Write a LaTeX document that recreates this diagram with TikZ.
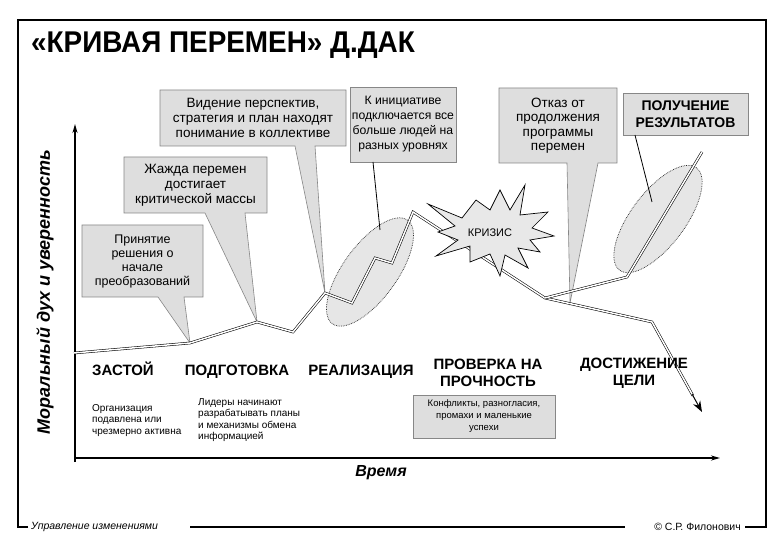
\documentclass[tikz,border=0pt]{standalone}
\usepackage{fontspec}
\setmainfont{Liberation Sans}
\usetikzlibrary{arrows.meta,shapes.geometric,calc}
\definecolor{boxfill}{RGB}{222,222,222}
\definecolor{boxline}{RGB}{135,135,135}
\definecolor{ellfill}{RGB}{230,230,230}
\definecolor{starfill}{RGB}{232,232,232}
\tikzset{
 curve/.style={draw=black,line width=0.55pt,double=white,double distance=1.5pt,line join=miter},
 callout/.style={fill=boxfill,draw=boxline,line width=0.6pt},
 ctext/.style={align=center,inner sep=0},
 phase/.style={align=center,font=\bfseries\fontsize{15}{17}\selectfont,inner sep=0},
 note/.style={align=left,font=\fontsize{10}{11.6}\selectfont,inner sep=0,anchor=north west},
 bubble/.style={ellipse,fill=ellfill,draw=black!85,densely dotted,line width=0.7pt,inner sep=0},
 frameline/.style={line width=2.2pt},
 axis/.style={line width=1.6pt,-{Stealth[length=9pt,width=5pt]}},
 pointer/.style={line width=0.8pt,draw=black},
}
\begin{document}
\begin{tikzpicture}[x=1pt,y=-1pt]
\useasboundingbox[fill=white] (0,0) rectangle (780,540);
% frame
\draw[frameline] (28,527) -- (18,527) -- (18,20) -- (766,20) -- (766,527) -- (745,527);
\draw[frameline] (190,527) -- (625,527);
\node[font=\itshape\fontsize{10.5}{12}\selectfont,anchor=west,inner sep=0] (ftl) at (31,527) {Управление изменениями};
\node[font=\fontsize{10.5}{12}\selectfont,anchor=east,inner sep=0] (ftr) at (741,527) {© С.Р. Филонович};
% title
\node[anchor=west,inner sep=0,font=\bfseries\fontsize{30}{34}\selectfont\addfontfeature{FakeStretch=0.93}] (title) at (31,45) {«КРИВАЯ ПЕРЕМЕН» Д.ДАК};
% axes
\draw[axis] (75,462) -- (75,124);
\draw[axis] (74,458) -- (720,458);
\node[rotate=90,font=\bfseries\itshape\fontsize{18}{20}\selectfont,inner sep=0] (ylab) at (45,292) {Моральный дух и уверенность};
\node[font=\bfseries\itshape\fontsize{16}{18}\selectfont,inner sep=0] (xlab) at (381,473) {Время};
% curve points
\coordinate (p0) at (74,353);
\coordinate (p1) at (190,343);
\coordinate (p2) at (257,322);
\coordinate (p3) at (293,332);
\coordinate (p4) at (325,293);
\coordinate (p5) at (352,303);
\coordinate (p6) at (375,258);
\coordinate (p7) at (392,263);
\coordinate (p8) at (413,212);
\coordinate (p9) at (545,298);
\coordinate (p10) at (652,322);
\coordinate (p11) at (702,412);
\coordinate (q1) at (627,277);
\coordinate (q2) at (702,152);
\coordinate (tipE) at (570,303);
% bubbles
\node[bubble,minimum width=128,minimum height=54,rotate=54] (e1) at (370,272) {};
\node[bubble,minimum width=128,minimum height=54,rotate=53] (e2) at (658,219) {};
% callouts
\draw[callout] (82,225) -- (203,225) -- (203,297) -- (184,297) -- (p1) -- (158,297) -- (82,297) -- cycle;
\node[ctext,font=\fontsize{12.5}{14}\selectfont] (ta) at (142.5,261) {Принятие\\решения о\\начале\\преобразований};
\draw[callout] (124,157) -- (267,157) -- (267,213) -- (245,213) -- (p2) -- (205,213) -- (124,213) -- cycle;
\node[ctext,font=\fontsize{13.5}{15}\selectfont] (tb) at (195.5,185) {Жажда перемен\\достигает\\критической массы};
\draw[callout] (160,90) -- (346,90) -- (346,146) -- (315,146) -- (p4) -- (295,146) -- (160,146) -- cycle;
\node[ctext,font=\fontsize{13.5}{15}\selectfont] (tc) at (253,118) {Видение перспектив,\\стратегия и план находят\\понимание в коллективе};
\draw[callout] (350,87) rectangle (456,162);
\node[ctext,font=\fontsize{12.2}{15}\selectfont] (td) at (403,124.5) {К инициативе\\подключается все\\больше людей на\\разных уровнях};
\coordinate (dE) at (380,230);
\draw[pointer] (373,162) -- (dE);
\draw[callout] (499,88) -- (617,88) -- (617,163) -- (598,163) -- (tipE) -- (567,163) -- (499,163) -- cycle;
\node[ctext,font=\fontsize{13.5}{14.5}\selectfont] (te) at (558,125.5) {Отказ от\\продолжения\\программы\\перемен};
\draw[callout] (623,93) rectangle (748,135);
\node[ctext,font=\bfseries\fontsize{14}{17}\selectfont] (tf) at (685.5,114) {ПОЛУЧЕНИЕ\\РЕЗУЛЬТАТОВ};
\coordinate (fE) at (652,202);
\draw[pointer] (635,135) -- (fE);
% curve
\draw[curve] (p0) -- (p1) -- (p2) -- (p3) -- (p4) -- (p5) -- (p6) -- (p7) -- (p8) -- (p9) -- (p10) -- ($(p10)!0.82!(p11)$);
\draw[curve] (p9) -- (q1) -- (q2);
\draw[line width=1pt,-{Stealth[length=11pt,width=8pt]}] ($(p10)!0.8!(p11)$) -- (p11);
% crisis star
\draw[fill=starfill,line width=0.7pt,line join=miter]
 (428,204) -- (462,218) -- (476,200) -- (490,210) -- (500,190) -- (510,210) -- (525,185) -- (520,215)
 -- (548,212) -- (532,228) -- (554,236) -- (530,240) -- (540,252) -- (518,248) -- (528,268) -- (505,255)
 -- (500,276) -- (490,254) -- (470,262) -- (470,246) -- (436,256) -- (458,240) -- (438,232) -- (455,226) -- cycle;
\node[font=\fontsize{11}{13}\selectfont,inner sep=0] (crisis) at (490,233) {КРИЗИС};
% phases
\node[phase,anchor=base] (ph1) at (123,376) {ЗАСТОЙ};
\node[phase,anchor=base] (ph2) at (237,376) {ПОДГОТОВКА};
\node[phase,anchor=base] (ph3) at (361,376) {РЕАЛИЗАЦИЯ};
\node[phase] (ph4) at (488,373) {ПРОВЕРКА НА\\ПРОЧНОСТЬ};
\node[phase] (ph5) at (634,373) {ДОСТИЖЕНИЕ\\ЦЕЛИ};
% notes
\node[note] (n1) at (92,404) {Организация\\подавлена или\\чрезмерно активна};
\node[note] (n2) at (198,398) {Лидеры начинают\\разрабатывать планы\\и механизмы обмена\\информацией};
\node[draw=boxline,fill=boxfill,minimum width=142,minimum height=43,inner sep=0,align=center,font=\fontsize{9.5}{12}\selectfont] (cb) at (484,416.5) {Конфликты, разногласия,\\промахи и маленькие\\успехи};
\end{tikzpicture}
\end{document}
